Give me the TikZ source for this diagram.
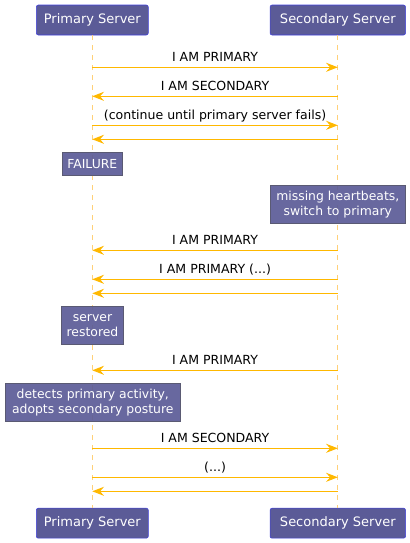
\documentclass[tikz,border=0pt]{standalone}
\usepackage{fontspec}
\setmainfont{DejaVu Sans}
\usetikzlibrary{arrows.meta}
\definecolor{boxfill}{RGB}{91,91,151}
\definecolor{boxline}{RGB}{64,64,220}
\definecolor{noteline}{RGB}{90,90,115}
\definecolor{msgcol}{RGB}{255,184,0}
\definecolor{lifecol}{RGB}{255,208,120}
\tikzset{
  part node/.style={rectangle,rounded corners=1.5pt,draw=boxline,fill=boxfill,text=white,minimum height=30*0.75pt,inner sep=0pt,font=\fontsize{9.75}{11}\selectfont},
  note node/.style={rectangle,draw=noteline,fill=boxfill,fill opacity=0.92,text opacity=1,text=white,inner sep=0pt,align=center,font=\fontsize{9.3}{11.2}\selectfont},
  msg/.style={draw=msgcol,line width=0.8pt,-{Stealth[length=8.8pt,width=6.8pt,inset=3pt]}},
  life/.style={draw=lifecol,line width=0.6pt,dash pattern=on 3.75pt off 3.75pt},
  lbl/.style={font=\fontsize{9.4}{11}\selectfont,text=black,inner sep=0pt,anchor=base,yshift=4.3pt}
}
\begin{document}
\begin{tikzpicture}[x=0.75pt,y=-0.75pt]
\useasboundingbox (0,0) rectangle (410,543);
% participants
\node[part node,minimum width=112*0.75pt] (p1) at (92.3,20) {Primary Server};
\node[part node,minimum width=135.5*0.75pt] (p2) at (337.8,20) {Secondary Server};
\node[part node,minimum width=112*0.75pt] (p1b) at (92.3,523.2) {Primary Server};
\node[part node,minimum width=135.5*0.75pt] (p2b) at (337.8,523.2) {Secondary Server};
% lifelines
\draw[life] (p1.south) -- (p1b.north);
\draw[life] (p2.south) -- (p2b.north);
% messages
\draw[msg] (p1 |- 0,67.3) -- node[lbl] {I AM PRIMARY} (p2 |- 0,67.3);
\draw[msg] (p2 |- 0,96.3) -- node[lbl] {I AM SECONDARY} (p1 |- 0,96.3);
\draw[msg] (p1 |- 0,125.3) -- node[lbl] {(continue until primary server fails)} (p2 |- 0,125.3);
\draw[msg] (p2 |- 0,139.3) -- (p1 |- 0,139.3);
\node[note node,minimum width=60.3*0.75pt,minimum height=23*0.75pt] (fail) at (92.3,163.8) {FAILURE};
\node[note node,minimum width=135.5*0.75pt,minimum height=38.3*0.75pt] (miss) at (337.8,204.2) {missing heartbeats,\\switch to primary};
\draw[msg] (p2 |- 0,250.3) -- node[lbl] {I AM PRIMARY} (p1 |- 0,250.3);
\draw[msg] (p2 |- 0,279.3) -- node[lbl] {I AM PRIMARY (...)} (p1 |- 0,279.3);
\draw[msg] (p2 |- 0,293.3) -- (p1 |- 0,293.3);
\node[note node,minimum width=62.4*0.75pt,minimum height=38.4*0.75pt] (rest) at (92.5,325.5) {server\\restored};
\draw[msg] (p2 |- 0,370.3) -- node[lbl] {I AM PRIMARY} (p1 |- 0,370.3);
\node[note node,minimum width=175*0.75pt,minimum height=38.4*0.75pt] (detect) at (92.8,402.5) {detects primary activity,\\adopts secondary posture};
\draw[msg] (p1 |- 0,448.3) -- node[lbl] {I AM SECONDARY} (p2 |- 0,448.3);
\draw[msg] (p1 |- 0,477.3) -- node[lbl] {(...)} (p2 |- 0,477.3);
\draw[msg] (p2 |- 0,491.3) -- (p1 |- 0,491.3);
\end{tikzpicture}
\end{document}
